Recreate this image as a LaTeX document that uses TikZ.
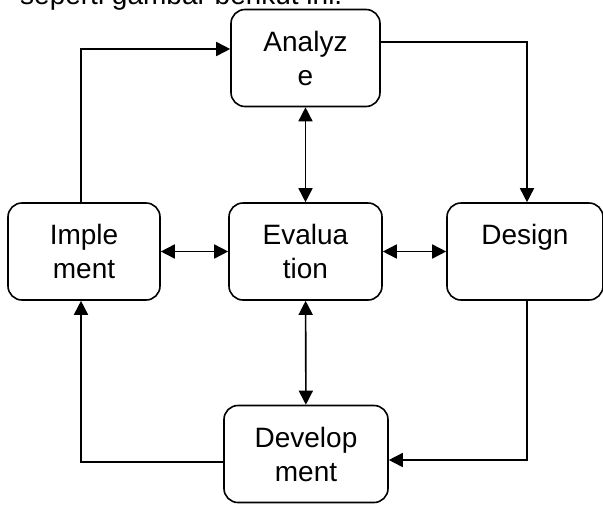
\documentclass[tikz,border=0pt]{standalone}
\usepackage{fontspec}
\setmainfont{Liberation Sans}
\usetikzlibrary{arrows.meta}

\begin{document}
\begin{tikzpicture}[x=1pt, y=-1pt,
    every node/.style={font=\fontsize{28}{34}\selectfont},
    phase/.style={draw, line width=1.6pt, rounded corners=14pt, align=center, inner sep=0pt, minimum height=97pt},
    arr/.style={line width=1.6pt, -{Triangle[length=14pt, width=14pt]}},
    biarr/.style={line width=1.6pt, {Triangle[length=14pt, width=14pt]}-{Triangle[length=14pt, width=14pt]}}]
    \useasboundingbox (0,0) rectangle (603,504);

    % Caption line, cut at the top
    \node[anchor=base west, inner sep=0pt] (caption) at (20,4) {seperti gambar berikut ini.};

    % Phases
    \node[phase, minimum width=149pt] (analyze) at (305.5,58) {Analyz\\e};
    \node[phase, minimum width=152pt] (implement) at (84,251.5) {Imple\\ment};
    \node[phase, minimum width=153pt] (evaluation) at (305.5,251.5) {Evalua\\tion};
    \node[phase, minimum width=156pt] (design) at (525,251.5) {Design\\\phantom{m}};
    \node[phase, minimum width=164pt] (development) at (306,454) {Develop\\ment};

    % Outer cycle
    \draw[arr] ([xshift=-3pt]implement.north) |- ([yshift=9pt]analyze.west);
    \draw[arr] ([yshift=16pt]analyze.east) -| ([xshift=2pt]design.north);
    \draw[arr] ([xshift=2pt]design.south) |- ([yshift=-6pt]development.east);
    \draw[arr] ([yshift=-8pt]development.west) -| ([xshift=-3pt]implement.south);

    % Links to evaluation
    \draw[biarr] (analyze) -- (evaluation);
    \draw[biarr] (evaluation) -- (development);
    \draw[biarr] (implement) -- (evaluation);
    \draw[biarr] (evaluation) -- (design);
\end{tikzpicture}
\end{document}
